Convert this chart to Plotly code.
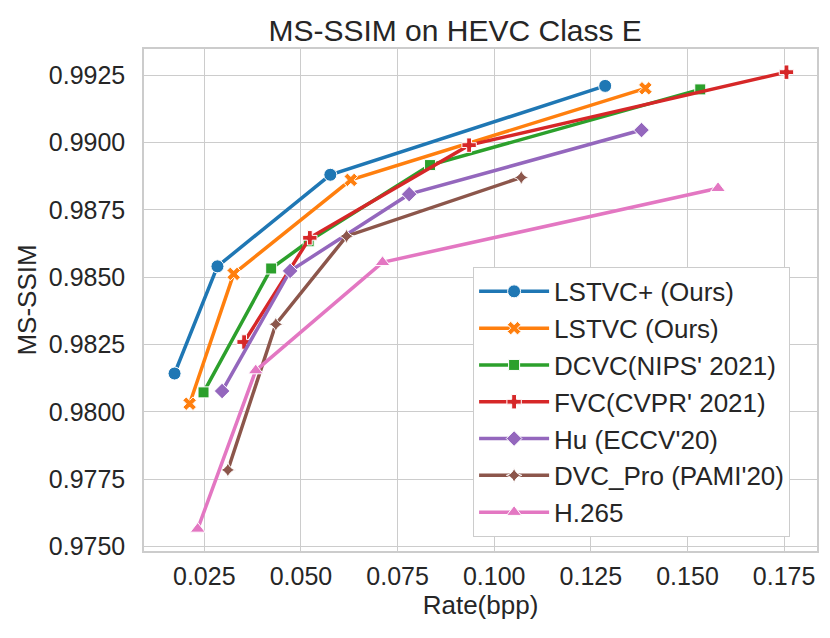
import plotly.graph_objects as go

# rate (bpp) / MS-SSIM points
lstvc_plus_bpp = [0.0173, 0.0284, 0.0576, 0.1287]
lstvc_plus_ssim = [0.98142, 0.98540, 0.98880, 0.99210]

lstvc_bpp = [0.0212, 0.0326, 0.0629, 0.1391]
lstvc_ssim = [0.98030, 0.98512, 0.98861, 0.99201]

dcvc_bpp = [0.0248, 0.0423, 0.0520, 0.0834, 0.1533]
dcvc_ssim = [0.98072, 0.98532, 0.98633, 0.98916, 0.99197]

fvc_bpp = [0.0353, 0.0523, 0.0935, 0.1756]
fvc_ssim = [0.98259, 0.98646, 0.98990, 0.99261]

hu_bpp = [0.0296, 0.0472, 0.0780, 0.1381]
hu_ssim = [0.98077, 0.98523, 0.98808, 0.99046]

dvc_pro_bpp = [0.0311, 0.0435, 0.0618, 0.1070]
dvc_pro_ssim = [0.97784, 0.98325, 0.98652, 0.98870]

h265_bpp = [0.0233, 0.0383, 0.0711, 0.1579]
h265_ssim = [0.97565, 0.98153, 0.98555, 0.98830]

x_ticks = [0.025, 0.050, 0.075, 0.100, 0.125, 0.150, 0.175]
y_ticks = [0.9750, 0.9775, 0.9800, 0.9825, 0.9850, 0.9875, 0.9900, 0.9925]

series = [
    ("LSTVC+ (Ours)", lstvc_plus_bpp, lstvc_plus_ssim, "#1f77b4", "circle", 13),
    ("LSTVC (Ours)", lstvc_bpp, lstvc_ssim, "#ff7f0e", "x", 12),
    ("DCVC(NIPS' 2021)", dcvc_bpp, dcvc_ssim, "#2ca02c", "square", 11),
    ("FVC(CVPR' 2021)", fvc_bpp, fvc_ssim, "#d62728", "cross", 12),
    ("Hu (ECCV'20)", hu_bpp, hu_ssim, "#9467bd", "diamond", 12),
    ("DVC_Pro (PAMI'20)", dvc_pro_bpp, dvc_pro_ssim, "#8c564b", "star-diamond", 11),
    ("H.265", h265_bpp, h265_ssim, "#e377c2", "triangle-up", 13),
]

fig = go.Figure()
for name, xs, ys, color, symbol, size in series:
    fig.add_trace(go.Scatter(
        x=xs, y=ys, name=name, mode='lines+markers',
        line=dict(color=color, width=3.5),
        marker=dict(symbol=symbol, size=size, color=color,
                    line=dict(color='white', width=1))
    ))

font_family = "Liberation Sans, Arial, sans-serif"

# the page body keeps an 8px margin, so the figure is 8px smaller each way
fig.update_layout(
    width=822,
    height=630,
    plot_bgcolor='white',
    paper_bgcolor='white',
    font=dict(family=font_family, color='#262626', size=26),
    title=dict(text="MS-SSIM on HEVC Class E", x=0.544, xanchor='center',
               y=0.965, yanchor='middle', font=dict(size=30, color='#262626')),
    margin=dict(l=136, r=11, t=41, b=87),
    legend=dict(
        x=0.489, y=0.028, xanchor='left', yanchor='bottom',
        bgcolor='white', bordercolor='#cccccc', borderwidth=1,
        font=dict(size=26, color='#262626'),
        tracegroupgap=0, itemwidth=70,
    ),
)
fig.update_xaxes(
    title=dict(text="Rate(bpp)", font=dict(size=26), standoff=6),
    range=[0.0094, 0.1835],
    tickvals=x_ticks,
    ticktext=[f"{v:.3f}" for v in x_ticks],
    showline=True, mirror=True, linecolor='#cccccc', linewidth=1.5,
    gridcolor='#cccccc', gridwidth=1.2, zeroline=False,
    ticks='', tickfont=dict(size=25), ticklabelstandoff=2,
)
fig.update_yaxes(
    title=dict(text="MS-SSIM", font=dict(size=26), standoff=5),
    range=[0.97483, 0.99347],
    tickvals=y_ticks,
    ticktext=[f"{v:.4f}" for v in y_ticks],
    showline=True, mirror=True, linecolor='#cccccc', linewidth=1.5,
    gridcolor='#cccccc', gridwidth=1.2, zeroline=False,
    ticks='', tickfont=dict(size=25), ticklabelstandoff=12,
)

fig.write_html("out.html")
